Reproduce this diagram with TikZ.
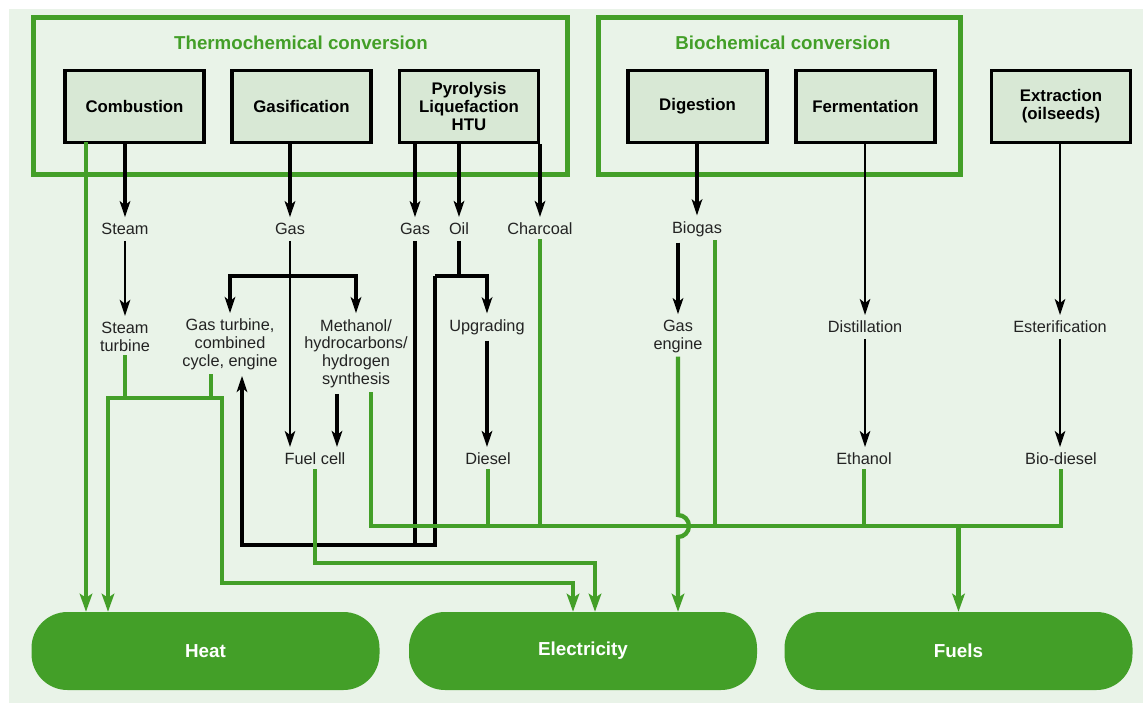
\documentclass[tikz,border=0pt]{standalone}
\usepackage{fontspec}
\setmainfont{Liberation Sans}
\usepackage{xcolor}
\usepackage{tikz}
\usetikzlibrary{arrows.meta,positioning,calc}
\definecolor{convgreen}{RGB}{67,159,40}
\definecolor{palegreen}{RGB}{233,243,232}
\definecolor{boxgreen}{RGB}{216,232,213}
\definecolor{labelink}{RGB}{35,35,35}
\tikzset{
  procbox/.style={rectangle, draw=black, fill=boxgreen, line width=3.2pt,
    minimum width=139pt, minimum height=72pt, align=center,
    font=\fontsize{16.8}{18}\selectfont\bfseries, inner sep=2pt},
  groupframe/.style={rectangle, draw=convgreen, line width=5pt, inner sep=0pt},
  grouptitle/.style={text=convgreen, font=\fontsize{18.7}{20}\selectfont\bfseries,
    inner sep=1pt},
  prodlabel/.style={align=center, text=labelink, font=\fontsize{16.3}{17.8}\selectfont,
    inner sep=3pt, outer sep=3pt},
  outlet/.style={rectangle, rounded corners=36pt, fill=convgreen, minimum width=348pt,
    minimum height=78pt, text=white, font=\fontsize{18.8}{20}\selectfont\bfseries},
}

\begin{document}
\begin{tikzpicture}[
    x=1pt, y=-1pt,
    >={Stealth[length=16pt,width=10.5pt,inset=4pt]},
    blkline/.style={draw=black, line width=3.2pt},
    blkthick/.style={blkline, ->},
    blkthin/.style={draw=black, line width=2.2pt, ->},
    grnline/.style={draw=convgreen, line width=4.3pt, line cap=rect},
    grnarrow/.style={grnline, -{Stealth[length=18pt,width=12.5pt,inset=4pt]}}
  ]

  \useasboundingbox (0,0) rectangle (1143,704);
  \fill[palegreen] (9,9) rectangle (1143,703);

  % ============ Conversion groups ============
  \node[groupframe, minimum width=534pt, minimum height=157pt] (thermoframe) at (300.5,95.5) {};
  \node[grouptitle] (thermotitle) at (301,43) {Thermochemical conversion};
  \node[groupframe, minimum width=362pt, minimum height=157pt] (bioframe) at (779.5,95.5) {};
  \node[grouptitle] (biotitle) at (783,43) {Biochemical conversion};

  % ============ Processes (y = 106.5) ============
  \node[procbox] (combustion)   at ( 134.5, 106.5) {Combustion};
  \node[procbox] (gasification) at ( 301.5, 106.5) {Gasification};
  \node[procbox] (pyrolysis)    at ( 469,   106.5) {Pyrolysis\\Liquefaction\\HTU};
  \node[procbox] (digestion)    at ( 697.5, 106.5) {Digestion};
  \node[procbox] (fermentation) at ( 865.5, 106.5) {Fermentation};
  \node[procbox] (extraction)   at (1061,   106.5) {Extraction\\(oilseeds)};

  % ============ Intermediates (y = 229) ============
  \node[prodlabel] (steam)    at (125, 229) {Steam};
  \node[prodlabel] (gasA)     at (290, 229) {Gas};
  \node[prodlabel] (gasB)     at (415, 229) {Gas};
  \node[prodlabel] (oil)      at (459, 229) {Oil};
  \node[prodlabel] (charcoal) at (540, 229) {Charcoal};
  \node[prodlabel] (biogas)   at (697, 229) {Biogas};

  % ============ Conversion steps (y = 327 top line) ============
  \node[prodlabel] (steamturb) at ( 125, 336.5) {Steam\\turbine};
  \node[prodlabel] (gasturb)   at ( 230, 344.5) {Gas turbine,\\combined\\cycle, engine};
  \node[prodlabel] (methanol)  at ( 356, 353.5) {Methanol/\\hydrocarbons/\\hydrogen\\synthesis};
  \node[prodlabel] (upgrading) at ( 487, 327)   {Upgrading};
  \node[prodlabel] (gasengine) at ( 678, 336.5) {Gas\\engine};
  \node[prodlabel] (distill)   at ( 865, 327)   {Distillation};
  \node[prodlabel] (ester)     at (1060, 327)   {Esterification};

  % ============ Products (y = 459) ============
  \node[prodlabel] (fuelcell)  at ( 315, 459) {Fuel cell};
  \node[prodlabel] (diesel)    at ( 488, 459) {Diesel};
  \node[prodlabel] (ethanol)   at ( 864, 459) {Ethanol};
  \node[prodlabel] (biodiesel) at (1061, 459) {Bio-diesel};

  % ============ End uses ============
  \node[outlet] (heat)  at (205.5, 651) {Heat};
  \node[outlet] (elec)  at (583,   651) {Electricity};
  \node[outlet] (fuels) at (958.5, 651) {Fuels};

  % ============ Junctions ============
  \coordinate (gasfork)  at (290, 276);
  \coordinate (oilfork)  at (459, 276);
  \coordinate (loopR)    at (435, 545);
  \coordinate (loopL)    at (242, 545);
  \coordinate (heatjoin) at (108, 398);
  \coordinate (elecjoin) at (222, 398);
  \coordinate (elecA)    at (573, 583);
  \coordinate (elecB)    at (595, 563);
  \coordinate (busL)     at (371, 526);
  \coordinate (bumptop)  at (678, 515);
  \coordinate (combout)   at ($(combustion.south)+(-48.5,0)$);
  \coordinate (gtout)     at ($(gasturb.south)+(-19,0)$);
  \coordinate (synthblk)  at ($(methanol.south)+(-19,0)$);
  \coordinate (synthgrn)  at ($(methanol.south)+(15,0)$);
  \coordinate (biogasgrn) at ($(biogas.south)+(18,0)$);

  % ============ Process outputs (black arrows) ============
  \draw[blkthick] (combustion.south -| steam) -- (steam.north);
  \draw[blkthick] (gasification.south -| gasA) -- (gasA.north);
  \draw[blkthick] (pyrolysis.south -| gasB) -- (gasB.north);
  \draw[blkthick] (pyrolysis.south -| oil) -- (oil.north);
  \draw[blkthick] (pyrolysis.south -| charcoal) -- (charcoal.north);
  \draw[blkthick] (digestion.south -| biogas) -- (biogas.north);
  \draw[blkthin] (fermentation.south -| distill) -- (distill.north);
  \draw[blkthin] (extraction.south -| ester) -- (ester.north);

  % ============ Intermediates to conversion steps ============
  \draw[blkthin] (steam.south) -- (steamturb.north);
  \draw[blkthin] (gasA.south) -- (gasA.south |- fuelcell.north);
  \draw[blkline, <->] (gasturb.north) |- (gasfork) -| (methanol.north);
  \draw[blkline] (oil.south) -- (oilfork);
  \draw[blkthick] (oilfork -| loopR) -| (upgrading.north);
  \draw[blkline] (oilfork -| loopR) -- (loopR) -- (loopR -| gasB);
  \draw[blkthick] (gasB.south) |- (loopL) -- (loopL |- gasturb.south);
  \draw[blkthick] (synthblk) -- (synthblk |- fuelcell.north);
  \draw[blkthick] (upgrading.south) -- (upgrading.south |- diesel.north);
  \draw[blkthick] (gasengine.north |- biogas.south) -- (gasengine.north);
  \draw[blkthin] (distill.south) -- (distill.south |- ethanol.north);
  \draw[blkthin] (ester.south) -- (ester.south |- biodiesel.north);

  % ============ Heat and electricity (green) ============
  \draw[grnarrow] (combout) -- (combout |- heat.north);
  \draw[grnline] (steamturb.south) -- (steamturb.south |- heatjoin);
  \draw[grnline] (gtout) -- (gtout |- elecjoin);
  \draw[grnarrow] (elecjoin) -- (heatjoin) -- (heatjoin |- heat.north);
  \draw[grnarrow] (elecjoin) |- (elecA) -- (elecA |- elec.north);
  \draw[grnarrow] (fuelcell.south) |- (elecB) -- (elecB |- elec.north);
  % gas engine hops over the fuels line
  \draw[grnarrow] (gasengine.south) -- (bumptop)
    arc[start angle=270, end angle=450, radius=11]
    -- (gasengine.south |- elec.north);

  % ============ Fuels (green) ============
  \draw[grnline] (synthgrn) |- (biodiesel.south |- busL) -- (biodiesel.south);
  \draw[grnline] (diesel.south) -- (diesel.south |- busL);
  \draw[grnline] (charcoal.south) -- (charcoal.south |- busL);
  \draw[grnline] (biogasgrn) -- (biogasgrn |- busL);
  \draw[grnline] (ethanol.south) -- (ethanol.south |- busL);
  \draw[grnarrow] (fuels.north |- busL) -- (fuels.north);

\end{tikzpicture}
\end{document}
